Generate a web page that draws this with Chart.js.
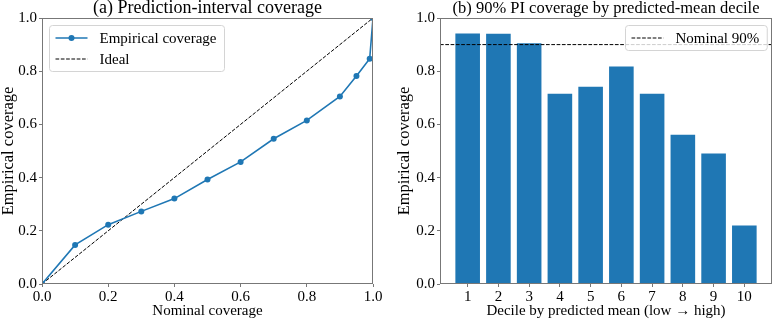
<!DOCTYPE html>
<html>
<head>
<meta charset="utf-8">
<script src="https://cdn.jsdelivr.net/npm/chart.js@4.4.1/dist/chart.umd.min.js"></script>
<style>
  html, body { margin: 0; padding: 0; background: #fff; overflow: hidden; }
  #wrap { position: relative; width: 778px; height: 321px; }
  canvas { position: absolute; top: 0; }
</style>
</head>
<body>
<div id="wrap">
  <canvas id="coverageChart" width="390" height="321" style="left:0"></canvas>
  <canvas id="decileChart" width="388" height="321" style="left:390px"></canvas>
</div>
<script>
// (a) calibration curve
var nominalLevels = [0, 0.1, 0.2, 0.3, 0.4, 0.5, 0.6, 0.7, 0.8, 0.9, 0.95, 0.99, 1.0];
var empiricalCoverage = [0, 0.147, 0.223, 0.273, 0.321, 0.393, 0.459, 0.546, 0.615, 0.705, 0.782, 0.847, 1.0];
var idealLine = [0, 1];
var unitTicks = [0, 0.2, 0.4, 0.6, 0.8, 1.0];

// (b) 90% PI coverage per predicted-mean decile
var deciles = [1, 2, 3, 4, 5, 6, 7, 8, 9, 10];
var decileCoverage = [0.942, 0.941, 0.905, 0.715, 0.742, 0.818, 0.715, 0.561, 0.491, 0.220];
var nominalTarget = 0.9;
var decileRange = [0.1, 10.9];

var FONT = "'Liberation Serif', 'Times New Roman', serif";
var BLUE = '#1f77b4';
var SPINE = '#777';

// box around the plot area, like matplotlib spines
var frame = {
  id: 'frame',
  afterDraw: function (chart) {
    var a = chart.chartArea, ctx = chart.ctx;
    ctx.save();
    ctx.strokeStyle = SPINE;
    ctx.lineWidth = 1;
    var l = Math.round(a.left) + 0.5, t = Math.round(a.top) + 0.5;
    var r = Math.round(a.right) - 0.5, b = Math.round(a.bottom) - 0.5;
    ctx.strokeRect(l, t, r - l, b - t);
    ctx.restore();
  }
};

// title centred over the plot area
var panelTitle = {
  id: 'panelTitle',
  afterDraw: function (chart, args, opts) {
    var a = chart.chartArea, ctx = chart.ctx;
    ctx.save();
    ctx.font = opts.size + 'px ' + FONT;
    ctx.fillStyle = '#000';
    ctx.textAlign = 'center';
    ctx.textBaseline = 'alphabetic';
    ctx.fillText(opts.text, (a.left + a.right) / 2, a.top - 5);
    ctx.restore();
  }
};

// legend drawn inside the plot area
var boxLegend = {
  id: 'boxLegend',
  afterDraw: function (chart, args, opts) {
    var a = chart.chartArea, ctx = chart.ctx;
    ctx.save();
    ctx.font = '15px ' + FONT;
    var textW = 0;
    opts.items.forEach(function (it) { textW = Math.max(textW, ctx.measureText(it.label).width); });
    var w = 6 + 32 + 12 + textW + 8;
    var h = 25 + (opts.items.length - 1) * 21;
    var x = opts.side === 'left' ? a.left + 7 : a.right - 5 - w;
    var y = a.top + 7.5;
    x = Math.round(x) + 0.5;
    var rad = 3;
    ctx.beginPath();
    ctx.moveTo(x + rad, y);
    ctx.arcTo(x + w, y, x + w, y + h, rad);
    ctx.arcTo(x + w, y + h, x, y + h, rad);
    ctx.arcTo(x, y + h, x, y, rad);
    ctx.arcTo(x, y, x + w, y, rad);
    ctx.closePath();
    ctx.fillStyle = 'rgba(255,255,255,0.8)';
    ctx.fill();
    ctx.strokeStyle = '#d4d4d4';
    ctx.lineWidth = 1;
    ctx.stroke();
    opts.items.forEach(function (it, i) {
      var cy = y + 12.5 + i * 21;
      ctx.beginPath();
      ctx.strokeStyle = it.color;
      ctx.lineWidth = it.width;
      ctx.setLineDash(it.dash || []);
      ctx.moveTo(x + 6, cy);
      ctx.lineTo(x + 38, cy);
      ctx.stroke();
      ctx.setLineDash([]);
      if (it.marker) {
        ctx.beginPath();
        ctx.fillStyle = it.color;
        ctx.arc(x + 22, cy, 3, 0, Math.PI * 2);
        ctx.fill();
      }
      ctx.fillStyle = '#000';
      ctx.textAlign = 'left';
      ctx.textBaseline = 'middle';
      ctx.fillText(it.label, x + 50, cy + 1);
    });
    ctx.restore();
  }
};

function tickFont() { return { family: FONT, size: 15 }; }

function unitAxis(titleText, horizontal, titleSize, titlePad) {
  return {
    type: 'linear', min: 0, max: 1,
    afterBuildTicks: function (s) { s.ticks = unitTicks.map(function (v) { return { value: v }; }); },
    ticks: {
      callback: function (v) { return Number(v).toFixed(1); },
      font: tickFont(), color: '#000', padding: horizontal ? 1 : 2,
      maxRotation: 0, autoSkip: false
    },
    grid: { drawOnChartArea: false, tickLength: 3, color: SPINE },
    border: { display: false },
    title: {
      display: true, text: titleText, color: '#000', padding: titlePad,
      font: { family: FONT, size: titleSize, lineHeight: horizontal ? 1.2 : 1 }
    }
  };
}

// (a)
var xA = unitAxis('Nominal coverage', true, 15, { top: 0, bottom: 1 });
xA.afterFit = function (s) { s.height = 37; };
var yA = unitAxis('Empirical coverage', false, 16.5, { top: 0, bottom: 0 });
yA.afterFit = function (s) { s.width = 42; };

new Chart(document.getElementById('coverageChart'), {
  type: 'line',
  data: {
    datasets: [
      {
        label: 'Empirical coverage',
        data: nominalLevels.map(function (x, i) { return { x: x, y: empiricalCoverage[i] }; }),
        borderColor: BLUE, backgroundColor: BLUE, borderWidth: 1.6,
        pointRadius: 3, pointHoverRadius: 3, pointBorderWidth: 0,
        tension: 0, order: 0
      },
      {
        label: 'Ideal',
        data: idealLine.map(function (v) { return { x: v, y: v }; }),
        borderColor: '#000', borderWidth: 1, borderDash: [3.7, 1.6],
        pointRadius: 0, tension: 0, order: 1
      }
    ]
  },
  options: {
    responsive: false, animation: false, events: [],
    layout: { padding: { top: 18, right: 17, left: 0, bottom: 0 } },
    plugins: {
      legend: { display: false },
      tooltip: { enabled: false },
      panelTitle: { text: '(a) Prediction-interval coverage', size: 18 },
      boxLegend: {
        side: 'left',
        items: [
          { label: 'Empirical coverage', color: BLUE, width: 1.6, marker: true },
          { label: 'Ideal', color: '#000', width: 1, dash: [3.7, 1.6] }
        ]
      }
    },
    scales: { x: xA, y: yA }
  },
  plugins: [panelTitle, boxLegend, frame]
});

// (b)
var yB = unitAxis('Empirical coverage', false, 16.5, { top: 6, bottom: 0 });
yB.afterFit = function (s) { s.width = 50; };

new Chart(document.getElementById('decileChart'), {
  type: 'bar',
  data: {
    datasets: [
      {
        type: 'line',
        label: 'Nominal 90%',
        data: decileRange.map(function (x) { return { x: x, y: nominalTarget }; }),
        borderColor: '#000', borderWidth: 1, borderDash: [3.7, 1.6],
        pointRadius: 0, order: 0
      },
      {
        label: 'Coverage',
        data: deciles.map(function (d, i) { return { x: d, y: decileCoverage[i] }; }),
        backgroundColor: BLUE, borderWidth: 0,
        barPercentage: 0.8, categoryPercentage: 1.0, order: 1
      }
    ]
  },
  options: {
    responsive: false, animation: false, events: [],
    layout: { padding: { top: 18, right: 6, left: 0, bottom: 0 } },
    plugins: {
      legend: { display: false },
      tooltip: { enabled: false },
      panelTitle: { text: '(b) 90% PI coverage by predicted-mean decile', size: 16.5 },
      boxLegend: {
        side: 'right',
        items: [{ label: 'Nominal 90%', color: '#000', width: 1, dash: [3.7, 1.6] }]
      }
    },
    scales: {
      x: {
        type: 'linear', min: decileRange[0], max: decileRange[1], offset: false,
        afterBuildTicks: function (s) { s.ticks = deciles.map(function (v) { return { value: v }; }); },
        ticks: { font: tickFont(), color: '#000', padding: 1, maxRotation: 0, autoSkip: false },
        grid: { drawOnChartArea: false, offset: false, tickLength: 3, color: SPINE },
        border: { display: false },
        title: { display: true, text: 'Decile by predicted mean (low \u2192 high)', font: tickFont(), color: '#000', padding: { top: 0, bottom: 1 } },
        afterFit: function (s) { s.height = 37; }
      },
      y: yB
    }
  },
  plugins: [panelTitle, boxLegend, frame]
});
</script>
</body>
</html>
